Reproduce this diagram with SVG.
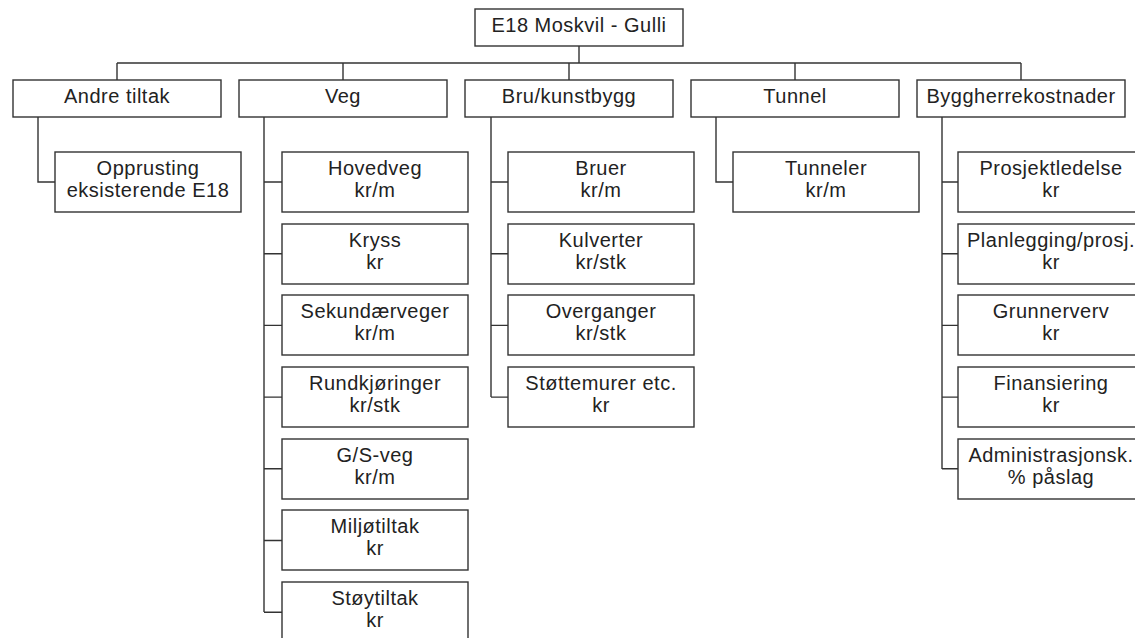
<svg xmlns="http://www.w3.org/2000/svg" width="1135" height="638" viewBox="0 0 1135 638">
<style>
.b{fill:#fff;stroke:#333;stroke-width:1.4}
.c{fill:none;stroke:#333;stroke-width:1.4}
text{font-family:"Liberation Sans",Arial,Helvetica,sans-serif;font-size:20px;letter-spacing:0.5px;fill:#222;text-anchor:middle}
</style>
<rect width="1135" height="638" fill="#fff"/>
<g id="connectors">
<path class="c" d="M579,46V63M117,63H1021M117,63V80M343,63V80M569,63V80M795,63V80M1021,63V80"/>
<path class="c" d="M38,117V182H55"/>
<path class="c" d="M264,117V612M264,182H282M264,253.7H282M264,325.4H282M264,397.1H282M264,468.8H282M264,540.5H282M264,612.2H282"/>
<path class="c" d="M491,117V397M491,182H508M491,253.7H508M491,325.4H508M491,397.1H508"/>
<path class="c" d="M716,117V182H733"/>
<path class="c" d="M942,117V469M942,182H958M942,253.7H958M942,325.4H958M942,397.1H958M942,468.8H958"/>
</g>
<g id="root"><rect class="b" x="475" y="9" width="208" height="37"/><text x="579" y="32">E18 Moskvil - Gulli</text></g>
<g id="andre"><rect class="b" x="13" y="80" width="208" height="37"/><text x="117" y="103">Andre tiltak</text></g>
<g id="veg"><rect class="b" x="239" y="80" width="208" height="37"/><text x="343" y="103">Veg</text></g>
<g id="bru"><rect class="b" x="465" y="80" width="208" height="37"/><text x="569" y="103">Bru/kunstbygg</text></g>
<g id="tunnel"><rect class="b" x="691" y="80" width="208" height="37"/><text x="795" y="103">Tunnel</text></g>
<g id="byggherre"><rect class="b" x="917" y="80" width="208" height="37"/><text x="1021" y="103">Byggherrekostnader</text></g>

<g id="opprusting"><rect class="b" x="55" y="152" width="186" height="60"/><text x="148" y="175">Opprusting</text><text x="148" y="197">eksisterende E18</text></g>

<g id="hovedveg"><rect class="b" x="282" y="152" width="186" height="60"/><text x="375" y="175">Hovedveg</text><text x="375" y="197">kr/m</text></g>
<g id="kryss"><rect class="b" x="282" y="224" width="186" height="60"/><text x="375" y="247">Kryss</text><text x="375" y="269">kr</text></g>
<g id="sekundaer"><rect class="b" x="282" y="295" width="186" height="60"/><text x="375" y="318">Sekundærveger</text><text x="375" y="340">kr/m</text></g>
<g id="rundkjoring"><rect class="b" x="282" y="367" width="186" height="60"/><text x="375" y="390">Rundkjøringer</text><text x="375" y="412">kr/stk</text></g>
<g id="gsveg"><rect class="b" x="282" y="439" width="186" height="60"/><text x="375" y="462">G/S-veg</text><text x="375" y="484">kr/m</text></g>
<g id="miljo"><rect class="b" x="282" y="510" width="186" height="60"/><text x="375" y="533">Miljøtiltak</text><text x="375" y="555">kr</text></g>
<g id="stoy"><rect class="b" x="282" y="582" width="186" height="60"/><text x="375" y="605">Støytiltak</text><text x="375" y="627">kr</text></g>

<g id="bruer"><rect class="b" x="508" y="152" width="186" height="60"/><text x="601" y="175">Bruer</text><text x="601" y="197">kr/m</text></g>
<g id="kulverter"><rect class="b" x="508" y="224" width="186" height="60"/><text x="601" y="247">Kulverter</text><text x="601" y="269">kr/stk</text></g>
<g id="overganger"><rect class="b" x="508" y="295" width="186" height="60"/><text x="601" y="318">Overganger</text><text x="601" y="340">kr/stk</text></g>
<g id="stottemurer"><rect class="b" x="508" y="367" width="186" height="60"/><text x="601" y="390">Støttemurer etc.</text><text x="601" y="412">kr</text></g>

<g id="tunneler"><rect class="b" x="733" y="152" width="186" height="60"/><text x="826" y="175">Tunneler</text><text x="826" y="197">kr/m</text></g>

<g id="prosjektledelse"><rect class="b" x="958" y="152" width="186" height="60"/><text x="1051" y="175">Prosjektledelse</text><text x="1051" y="197">kr</text></g>
<g id="planlegging"><rect class="b" x="958" y="224" width="186" height="60"/><text x="1051" y="247">Planlegging/prosj.</text><text x="1051" y="269">kr</text></g>
<g id="grunnerverv"><rect class="b" x="958" y="295" width="186" height="60"/><text x="1051" y="318">Grunnerverv</text><text x="1051" y="340">kr</text></g>
<g id="finansiering"><rect class="b" x="958" y="367" width="186" height="60"/><text x="1051" y="390">Finansiering</text><text x="1051" y="412">kr</text></g>
<g id="administrasjon"><rect class="b" x="958" y="439" width="186" height="60"/><text x="1051" y="462">Administrasjonsk.</text><text x="1051" y="484">% påslag</text></g>
</svg>
